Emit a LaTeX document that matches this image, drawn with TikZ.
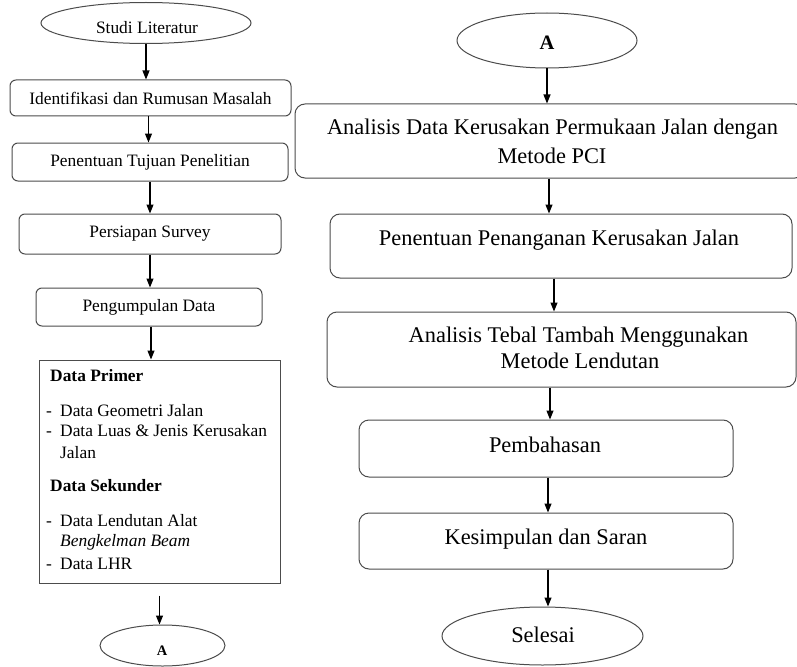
\documentclass[tikz,border=0pt]{standalone}
\usepackage{fontspec}
\setmainfont{Liberation Serif}
\usetikzlibrary{shapes.geometric,arrows.meta}
\begin{document}
\begin{tikzpicture}[x=1pt,y=-1pt,
  sz/.style 2 args={minimum width=#1pt, minimum height=#2pt},
  lbox/.style={draw=black!70, line width=1pt, rounded corners=6pt, inner sep=0pt,
    font=\fontsize{17.4}{21}\selectfont, text=black},
  rbox/.style={draw=black!70, line width=1pt, rounded corners=10pt, inner sep=0pt},
  sqbox/.style={draw=black!70, line width=1pt, inner sep=0pt},
  oval/.style={draw=black!70, line width=1pt, ellipse, inner sep=0pt},
  ltxt/.style={font=\fontsize{17.4}{21}\selectfont, text=black, inner sep=0pt, anchor=base west},
  rtxt/.style={font=\fontsize{22.4}{28}\selectfont, text=black, inner sep=0pt, anchor=base},
  arr/.style={-{Triangle[width=7pt,length=9pt]}, line width=1.1pt, black}
]
\clip (0,0) rectangle (797,666);
\fill[white] (0,0) rectangle (797,666);

% ---------- left column ----------
\node[oval, sz={210}{41}] (lit) at (146,23) {};
\node[ltxt, anchor=base] (litt) at (147,33.5) {Studi Literatur};
\node[lbox, sz={281}{36}] (idn) at (150.5,98) {Identifikasi dan Rumusan Masalah};
\node[lbox, sz={276}{38}] (tuj) at (150,162) {Penentuan Tujuan Penelitian};
\node[lbox, sz={262}{40}] (sur) at (150,234) {Persiapan Survey};
\node[lbox, sz={226}{38}] (kum) at (149,307) {Pengumpulan Data};
\node[sqbox, sz={241}{223}] (dat) at (159.5,471.5) {};
\node[ltxt] (t1) at (50,381) {\textbf{Data Primer}};
\node[ltxt] (t2) at (46,416) {\makebox[14pt][l]{-}Data Geometri Jalan};
\node[ltxt] (t3) at (46,436) {\makebox[14pt][l]{-}Data Luas \& Jenis Kerusakan};
\node[ltxt] (t4) at (60,458) {Jalan};
\node[ltxt] (t5) at (50,491) {\textbf{Data Sekunder}};
\node[ltxt] (t6) at (46,526) {\makebox[14pt][l]{-}Data Lendutan Alat};
\node[ltxt] (t7) at (60,546) {\textit{Bengkelman Beam}};
\node[ltxt] (t8) at (46,569) {\makebox[14pt][l]{-}Data LHR};
\node[oval, sz={125}{41}] (aL) at (162.5,645.5) {};
\node[inner sep=0pt, anchor=base, font=\fontsize{14.5}{16}\selectfont\bfseries, text=black] (aLt) at (162,655) {A};

\draw[arr] (lit.south) -- (lit.south |- idn.north);
\draw[arr] ([xshift=-2pt]idn.south) -- ([xshift=-2pt]idn.south |- tuj.north);
\draw[arr] (tuj.south) -- (tuj.south |- sur.north);
\draw[arr] (sur.south) -- (sur.south |- kum.north);
\draw[arr] ([xshift=2pt]kum.south) -- ([xshift=2pt]kum.south |- dat.north);
\draw[arr] ([yshift=-12pt]dat.south) -- (dat.south |- aL.north);

% ---------- right column ----------
\node[oval, sz={180}{55}] (aR) at (547,40.5) {};
\node[inner sep=0pt, anchor=base, font=\fontsize{20.5}{22}\selectfont\bfseries, text=black] (aRt) at (547,50) {A};
\node[rbox, sz={510}{74}] (pci) at (550,141) {};
\node[rtxt] (pci1) at (552.5,135) {Analisis Data Kerusakan Permukaan Jalan dengan};
\node[rtxt] (pci2) at (552,163) {Metode PCI};
\node[rbox, sz={462}{64}] (pen) at (561,246) {};
\node[rtxt] (pent) at (559,245) {Penentuan Penanganan Kerusakan Jalan};
\node[rbox, sz={469}{75}] (teb) at (561.5,349.5) {};
\node[rtxt] (teb1) at (578.5,342) {Analisis Tebal Tambah Menggunakan};
\node[rtxt] (teb2) at (580,368) {Metode Lendutan};
\node[rbox, sz={374}{57}] (pem) at (546,448.5) {};
\node[rtxt] (pemt) at (545,452) {Pembahasan};
\node[rbox, sz={374}{56}] (kes) at (546,541) {};
\node[rtxt] (kest) at (546,544) {Kesimpulan dan Saran};
\node[oval, sz={201}{58}] (sel) at (542.5,636) {};
\node[rtxt] (selt) at (543,642) {Selesai};

\draw[arr] (aR.south) -- (aR.south |- pci.north);
\draw[arr] ([xshift=-1pt]pci.south) -- ([xshift=-1pt]pci.south |- pen.north);
\draw[arr] ([xshift=-7pt]pen.south) -- ([xshift=-7pt]pen.south |- teb.north);
\draw[arr] ([xshift=-11.5pt]teb.south) -- ([xshift=-11.5pt]teb.south |- pem.north);
\draw[arr] ([xshift=2pt]pem.south) -- ([xshift=2pt]pem.south |- kes.north);
\draw[arr] ([xshift=2pt]kes.south) -- ([xshift=2pt]kes.south |- sel.north);
\end{tikzpicture}
\end{document}
